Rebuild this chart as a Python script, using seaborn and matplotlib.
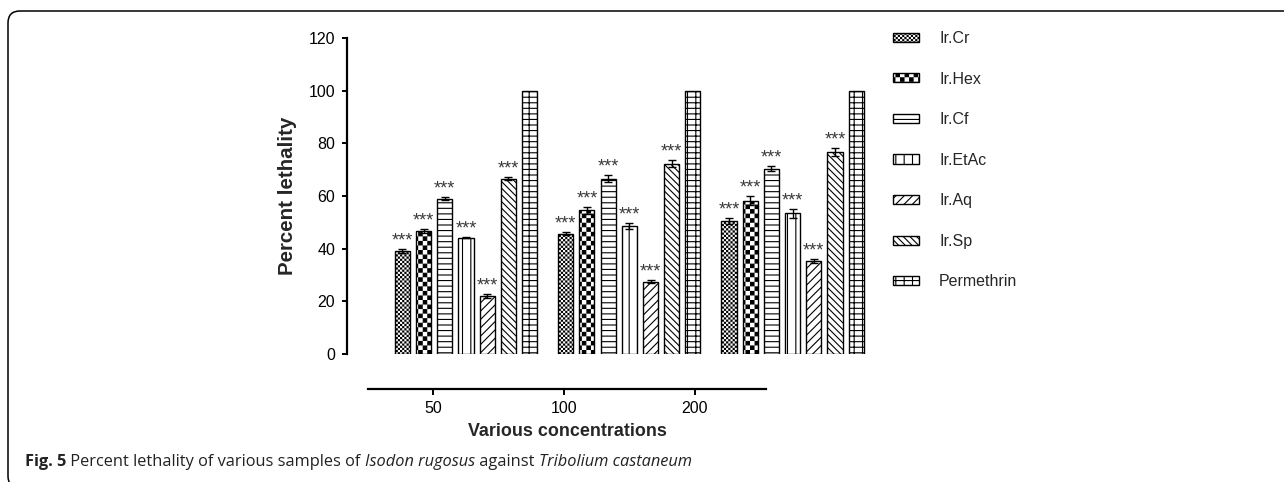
import numpy as np
import pandas as pd
import seaborn as sns
import matplotlib
matplotlib.use("Agg")
import matplotlib.pyplot as plt
import matplotlib.hatch as mhatch
from matplotlib.path import Path
from matplotlib.patches import FancyBboxPatch, Rectangle
from matplotlib.transforms import IdentityTransform

# ---------------- data ----------------
concentrations = ["50", "100", "200"]
samples = ["Ir.Cr", "Ir.Hex", "Ir.Cf", "Ir.EtAc", "Ir.Aq", "Ir.Sp", "Permethrin"]
lethality_50 = [39.2, 46.8, 59.0, 44.2, 22.0, 66.6, 100.0]
lethality_100 = [45.7, 54.6, 66.6, 48.5, 27.5, 72.3, 100.0]
lethality_200 = [50.6, 58.2, 70.4, 53.4, 35.2, 76.7, 100.0]
sem_50 = [0.8, 0.7, 0.6, 0.3, 0.8, 0.5, 0.0]
sem_100 = [0.5, 1.3, 1.3, 1.2, 0.6, 1.4, 0.0]
sem_200 = [1.1, 1.8, 1.0, 1.8, 0.8, 1.6, 0.0]
significance = ["***", "***", "***", "***", "***", "***", ""]
y_ticks = [0, 20, 40, 60, 80, 100, 120]

# ---------------- custom checkerboard hatch (replaces 'o' / 'O') ----------------
class CheckerHatch(mhatch.HatchPatternBase):
    inset = 0.0055

    def __init__(self, hatch, density):
        if hatch.count('o'):
            self.n = 46
        elif hatch.count('O'):
            self.n = 22
        else:
            self.n = 0
        self.num_vertices = (self.n * self.n // 2) * 5 if self.n else 0

    def set_vertices_and_codes(self, vertices, codes):
        n = self.n
        s = 1.0 / n
        d = self.inset
        k = 0
        for i in range(n):
            for j in range(n):
                if (i + j) % 2 == 0:
                    x0, y0 = i * s + d, j * s + d
                    x1, y1 = (i + 1) * s - d, (j + 1) * s - d
                    vertices[k:k + 5] = [(x0, y0), (x1, y0), (x1, y1), (x0, y1), (x0, y0)]
                    codes[k:k + 5] = [Path.MOVETO, Path.LINETO, Path.LINETO,
                                      Path.LINETO, Path.CLOSEPOLY]
                    k += 5

for cls in (mhatch.SmallCircles, mhatch.LargeCircles):
    if cls in mhatch._hatch_types:
        mhatch._hatch_types.remove(cls)
mhatch._hatch_types.append(CheckerHatch)

hatches = ["o", "O", "---", "||", "////", "\\\\\\\\\\", "++-"]

# ---------------- style ----------------
sns.set_style("white")
plt.rcParams['font.family'] = ['Liberation Sans', 'DejaVu Sans']
plt.rcParams['hatch.linewidth'] = 0.8
plt.rcParams['hatch.color'] = 'black'

W, H = 1284, 482
fig = plt.figure(figsize=(W / 100, H / 100), dpi=100)

# main axes (bars)
ax_left, ax_right = 347, 882.5
ax_top, ax_bottom = 38, 354
ax = fig.add_axes([ax_left / W, (H - ax_bottom) / H,
                   (ax_right - ax_left) / W, (ax_bottom - ax_top) / H])

records = []
for c, vals in zip(concentrations, [lethality_50, lethality_100, lethality_200]):
    for s, v in zip(samples, vals):
        records.append({"conc": c, "sample": s, "val": v})
df = pd.DataFrame(records)
sems = {"50": sem_50, "100": sem_100, "200": sem_200}

sns.barplot(data=df, x="conc", y="val", hue="sample", order=concentrations,
            hue_order=samples, palette=["white"] * len(samples),
            edgecolor="black", linewidth=1.0, width=0.909, gap=0.29,
            errorbar=None, legend=False, saturation=1, ax=ax)

bars = [p for p in ax.patches if isinstance(p, Rectangle) and p.get_height() > 0]
bars.sort(key=lambda p: p.get_x())
n_s = len(samples)
legend_handles = [None] * n_s
err_x, err_y, err_e = [], [], []
for k, bar in enumerate(bars):
    g, i = divmod(k, n_s)
    bar.set_hatch(hatches[i])
    bar.set_edgecolor("black")
    bar.set_facecolor("white")
    if legend_handles[i] is None:
        legend_handles[i] = bar
    cx = bar.get_x() + bar.get_width() / 2
    h = bar.get_height()
    e = sems[concentrations[g]][i]
    if e > 0:
        err_x.append(cx); err_y.append(h); err_e.append(e)
    if significance[i]:
        ax.text(cx, h + e + 1.3, significance[i], ha="center", va="baseline",
                fontsize=13, color="#3a3a3a")

ax.errorbar(err_x, err_y, yerr=err_e, fmt="none", ecolor="black",
            elinewidth=1.0, capsize=3, capthick=1.0, zorder=5)

ax.set_xlim((ax_left - 466) / 163.3, (ax_right - 466) / 163.3)
ax.set_ylim(0, 120)
ax.set_yticks(y_ticks)
ax.set_yticklabels([str(t) for t in y_ticks])
ax.tick_params(axis="y", direction="out", length=3.6, width=1.4, pad=5,
               labelsize=11.5, left=True, colors="black")
ax.set_xticks([])
ax.set_xlabel("")
ax.set_ylabel("Percent lethality", fontsize=14.8, fontweight="bold")
ax.yaxis.set_label_coords(-0.093, 0.5)
for side in ["top", "right", "bottom"]:
    ax.spines[side].set_visible(False)
ax.spines["left"].set_linewidth(1.6)
ax.spines["left"].set_color("black")
ax.patch.set_alpha(0)

# separate x axis (offset, as in the original figure)
x2_left, x2_right, x2_y = 368, 766, 389
ax2 = fig.add_axes([x2_left / W, (H - x2_y) / H, (x2_right - x2_left) / W, 0.0001])
ax2.set_xlim((x2_left - 433) / 131.0, (x2_right - 433) / 131.0)
ax2.set_xticks(range(len(concentrations)))
ax2.set_xticklabels(concentrations)
ax2.set_yticks([])
ax2.tick_params(axis="x", direction="out", length=4.3, width=1.4, pad=4.5,
                labelsize=11.5, bottom=True, colors="black")
for side in ["top", "right", "left"]:
    ax2.spines[side].set_visible(False)
ax2.spines["bottom"].set_linewidth(1.6)
ax2.spines["bottom"].set_color("black")
ax2.patch.set_alpha(0)
ax2.set_xlabel("Various concentrations", fontsize=12.9, fontweight="bold", labelpad=5)

# legend
ax.legend(handles=legend_handles, labels=samples, loc="upper left",
          bbox_to_anchor=(893 / W, (H - 31) / H), bbox_transform=fig.transFigure,
          frameon=False, fontsize=11.5, handlelength=1.63, handleheight=0.5,
          handletextpad=1.25, labelspacing=1.6, borderpad=0, borderaxespad=0)

# frame
frame = FancyBboxPatch((8, -6), 1400, (H - 11) + 6,
                       boxstyle="round,pad=0,rounding_size=12",
                       transform=IdentityTransform(), fill=False,
                       edgecolor="black", linewidth=1.1)
fig.add_artist(frame)

# caption with mixed styles
renderer = fig.canvas.get_renderer()
cap_parts = [("Fig. 5", "bold", "normal"),
             (" Percent lethality of various samples of ", "normal", "normal"),
             ("Isodon rugosus", "normal", "italic"),
             (" against ", "normal", "normal"),
             ("Tribolium castaneum", "normal", "italic")]
x_px = 25
for txt, weight, style in cap_parts:
    t = fig.text(x_px / W, (H - 466.5) / H, txt, fontsize=11.75,
                 fontweight=weight, fontstyle=style, ha="left", va="baseline",
                 family=["Open Sans", "DejaVu Sans"], color="#222222")
    bb = t.get_window_extent(renderer=renderer)
    x_px += bb.width

fig.savefig("out.png", dpi=100)
